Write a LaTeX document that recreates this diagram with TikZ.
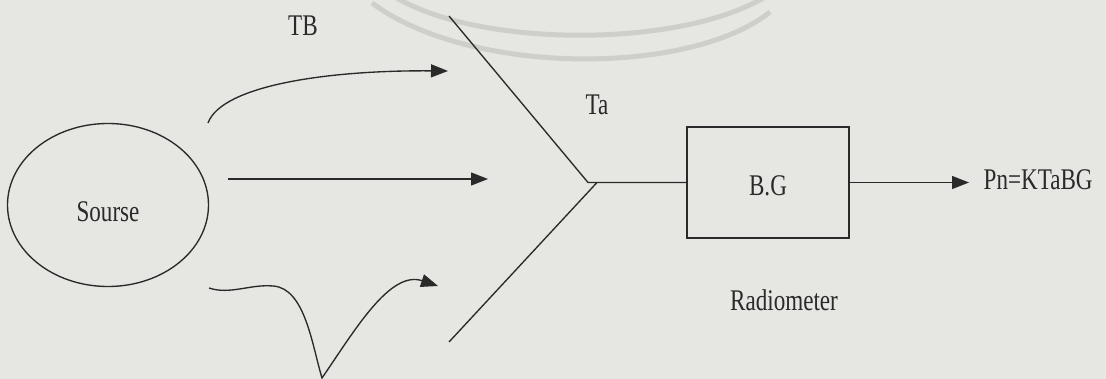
\documentclass[tikz,border=0pt]{standalone}
\usepackage{fontspec}
\setmainfont{Liberation Serif}[FakeStretch=0.77]
\usetikzlibrary{arrows.meta,shapes.geometric}
\definecolor{bgc}{RGB}{230,230,227}
\definecolor{ink}{RGB}{42,42,42}
\definecolor{stamp}{RGB}{206,206,203}
\tikzset{
  lbl/.style={inner sep=0pt, text=ink, font=\fontsize{30}{34}\selectfont},
  arr/.style={-{Triangle[length=17pt,width=13pt]}},
}
\begin{document}
\begin{tikzpicture}[x=1pt,y=-1pt,line width=1.35pt,draw=ink]
\fill[bgc] (0,0) rectangle (1106,379);
\useasboundingbox (0,0) rectangle (1106,379);
% faint stamp arcs from the scan
\draw[stamp,line width=5pt] (395,-3) .. controls (480,48) and (680,48) .. (765,-3);
\draw[stamp,line width=5pt] (372,3) .. controls (470,76) and (690,76) .. (770,12);
% source
\node[ellipse,draw=ink,minimum width=201pt,minimum height=163pt,inner sep=0pt] (src) at (108,205) {};
\node[lbl] (srclbl) at (108,212) {Sourse};
\node[lbl] (tb) at (303,26) {TB};
\node[lbl] (ta) at (597,105) {Ta};
% receiver box
\node[draw=ink,minimum width=162pt,minimum height=111pt,inner sep=0pt] (box) at (768,182.5) {};
\node[lbl] (bglbl) at (768,186) {B.G};
\node[lbl] (radio) at (784,300) {Radiometer};
\node[lbl,anchor=west] (pn) at (983,180) {Pn=KTaBG};
% antenna
\coordinate (a1) at (449,16);
\coordinate (av) at (588,182.5);
\coordinate (a2) at (597,182.5);
\coordinate (a3) at (449,342);
\draw (a1) -- (av) -- (box.west);
\draw (a2) -- (a3);
\coordinate (outtip) at (969,182.5);
\draw[arr] (box.east) -- (outtip);
% incoming rays
\coordinate (u0) at (208,123);
\coordinate (u1) at (448,71);
\draw[arr] (u0) .. controls (222,85) and (330,70) .. (u1);
\coordinate (m0) at (228,179);
\coordinate (m1) at (488,179);
\draw[arr] (m0) -- (m1);
\coordinate (w0) at (209,288);
\coordinate (w1) at (273,286);
\coordinate (w2) at (322,378);
\coordinate (w3) at (438,286);
\draw[arr] (w0) .. controls (230,295) and (250,284) .. (w1)
  .. controls (305,288) and (312,345) .. (w2)
  .. controls (355,330) and (390,270) .. (w3);
\end{tikzpicture}
\end{document}
